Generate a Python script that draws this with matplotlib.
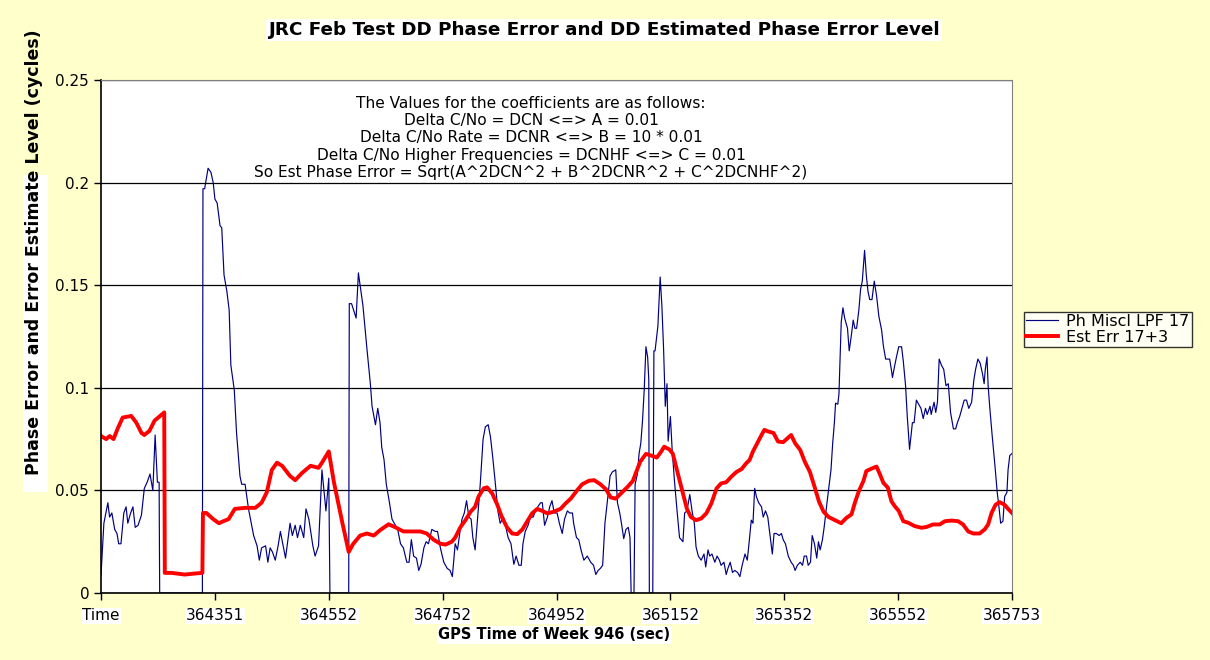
import matplotlib
matplotlib.use('Agg')
import matplotlib.pyplot as plt
from matplotlib.patches import Rectangle

plt.rcParams['font.family'] = ['DejaVu Sans']

# sample index (1 s per sample) and phase error values
ph_idx = [0, 5, 12, 15, 19, 24, 28, 31, 35, 40, 44, 47, 52, 56, 60, 65, 71, 76, 81, 86,
          91, 95, 99, 102, 103, 178, 179, 182, 188, 193, 197, 200, 204, 209, 212, 216, 221,
          225, 228, 234, 238, 244, 247, 253, 259, 268, 274, 278, 282, 289, 293, 297, 301,
          306, 311, 315, 324, 332, 336, 341, 345, 350, 356, 360, 365, 372, 376, 382, 388,
          395, 400, 402, 435, 436, 440, 448, 452, 455, 460, 467, 473, 476, 482, 486, 490,
          493, 497, 501, 506, 511, 517, 521, 526, 531, 537, 541, 545, 549, 554, 558, 562,
          567, 571, 575, 581, 587, 591, 596, 602, 608, 613, 617, 622, 626, 631, 634, 638,
          642, 646, 650, 653, 657, 662, 666, 671, 675, 680, 684, 688, 693, 697, 701, 707,
          711, 715, 720, 725, 729, 734, 738, 741, 745, 750, 754, 759, 763, 767, 772, 775,
          779, 784, 788, 792, 796, 801, 805, 810, 814, 819, 823, 828, 830, 835, 839, 843,
          848, 854, 860, 865, 869, 873, 877, 881, 885, 889, 894, 898, 904, 907, 911, 914,
          918, 922, 926, 929, 931, 936, 938, 942, 945, 948, 951, 954, 957, 960, 962, 963,
          969, 971, 973, 978, 982, 985, 988, 991, 994, 996, 1000, 1003, 1007, 1012, 1016,
          1022, 1025, 1029, 1034, 1038, 1042, 1045, 1049, 1054, 1059, 1062, 1066, 1069,
          1073, 1078, 1082, 1086, 1089, 1094, 1098, 1101, 1105, 1109, 1113, 1118, 1122,
          1126, 1131, 1135, 1138, 1142, 1145, 1148, 1151, 1155, 1160, 1163, 1167, 1171,
          1175, 1179, 1182, 1186, 1191, 1195, 1198, 1202, 1207, 1212, 1216, 1219, 1223,
          1228, 1232, 1235, 1239, 1242, 1246, 1249, 1253, 1257, 1260, 1263, 1267, 1270,
          1275, 1279, 1282, 1285, 1288, 1290, 1294, 1296, 1300, 1303, 1306, 1311, 1314,
          1318, 1321, 1324, 1327, 1331, 1334, 1337, 1341, 1344, 1347, 1350, 1354, 1358,
          1362, 1366, 1371, 1374, 1378, 1381, 1385, 1388, 1390, 1394, 1397, 1401, 1406,
          1409, 1413, 1416, 1420, 1425, 1428, 1432, 1436, 1440, 1444, 1448, 1451, 1456,
          1458, 1463, 1466, 1469, 1472, 1476, 1480, 1484, 1488, 1492, 1497, 1501, 1504,
          1508, 1512, 1516, 1520, 1524, 1529, 1533, 1536, 1540, 1544, 1548, 1551, 1553,
          1556, 1558, 1561, 1565, 1570, 1574, 1577, 1580, 1584, 1587, 1591, 1593, 1596, 1600]
ph_val = [0.009, 0.034, 0.044, 0.037, 0.039, 0.031, 0.029, 0.024, 0.024, 0.039, 0.042, 0.034,
          0.039, 0.042, 0.032, 0.033, 0.038, 0.051, 0.054, 0.058, 0.050, 0.077, 0.054, 0.054,
          0.0, 0.0, 0.197, 0.197, 0.207, 0.205, 0.200, 0.192, 0.190, 0.179, 0.178, 0.155,
          0.147, 0.138, 0.111, 0.099, 0.078, 0.057, 0.053, 0.053, 0.041, 0.028, 0.023, 0.016,
          0.022, 0.023, 0.015, 0.022, 0.020, 0.016, 0.023, 0.030, 0.017, 0.034, 0.028, 0.033,
          0.027, 0.033, 0.027, 0.041, 0.036, 0.023, 0.018, 0.023, 0.060, 0.040, 0.056, 0.0,
          0.0, 0.141, 0.141, 0.134, 0.156, 0.150, 0.140, 0.119, 0.102, 0.091, 0.082, 0.090,
          0.083, 0.071, 0.065, 0.053, 0.045, 0.036, 0.033, 0.031, 0.024, 0.022, 0.015, 0.015,
          0.026, 0.018, 0.017, 0.011, 0.014, 0.022, 0.025, 0.024, 0.031, 0.030, 0.030, 0.022,
          0.015, 0.012, 0.011, 0.008, 0.024, 0.021, 0.031, 0.036, 0.039, 0.045, 0.037, 0.036,
          0.027, 0.021, 0.039, 0.053, 0.075, 0.081, 0.082, 0.076, 0.066, 0.052, 0.040, 0.034,
          0.037, 0.032, 0.027, 0.024, 0.014, 0.018, 0.0135, 0.0135, 0.024, 0.030, 0.033,
          0.037, 0.037, 0.040, 0.042, 0.044, 0.044, 0.033, 0.037, 0.042, 0.045, 0.039, 0.039,
          0.034, 0.029, 0.036, 0.040, 0.039, 0.039, 0.034, 0.027, 0.026, 0.021, 0.016, 0.018,
          0.015, 0.0135, 0.009, 0.011, 0.012, 0.0135, 0.034, 0.044, 0.057, 0.059, 0.060,
          0.044, 0.039, 0.034, 0.0265, 0.031, 0.032, 0.027, 0.0, 0.0, 0.053, 0.058, 0.068,
          0.073, 0.084, 0.099, 0.120, 0.115, 0.104, 0.0, 0.0, 0.118, 0.118, 0.130, 0.154,
          0.140, 0.119, 0.091, 0.102, 0.074, 0.086, 0.070, 0.055, 0.039, 0.027, 0.025, 0.039,
          0.040, 0.048, 0.040, 0.034, 0.0225, 0.018, 0.016, 0.019, 0.0127, 0.021, 0.018,
          0.019, 0.015, 0.018, 0.016, 0.0135, 0.015, 0.009, 0.012, 0.015, 0.010, 0.011, 0.010,
          0.008, 0.0135, 0.019, 0.016, 0.024, 0.0355, 0.034, 0.051, 0.047, 0.044, 0.042,
          0.037, 0.040, 0.037, 0.028, 0.019, 0.029, 0.029, 0.028, 0.029, 0.026, 0.024, 0.018,
          0.015, 0.0135, 0.011, 0.0135, 0.015, 0.0135, 0.018, 0.018, 0.0135, 0.015, 0.028,
          0.024, 0.017, 0.025, 0.021, 0.026, 0.032, 0.044, 0.053, 0.060, 0.073, 0.083, 0.0925,
          0.092, 0.097, 0.132, 0.139, 0.134, 0.129, 0.118, 0.126, 0.133, 0.129, 0.129, 0.138,
          0.148, 0.152, 0.167, 0.155, 0.147, 0.143, 0.143, 0.152, 0.145, 0.135, 0.128, 0.1205,
          0.114, 0.114, 0.114, 0.109, 0.105, 0.111, 0.115, 0.120, 0.120, 0.113, 0.101, 0.086,
          0.070, 0.083, 0.083, 0.094, 0.092, 0.090, 0.085, 0.090, 0.087, 0.091, 0.087, 0.093,
          0.088, 0.093, 0.114, 0.111, 0.109, 0.101, 0.102, 0.088, 0.080, 0.080, 0.083, 0.086,
          0.090, 0.094, 0.094, 0.090, 0.093, 0.104, 0.109, 0.114, 0.112, 0.107, 0.102, 0.109,
          0.115, 0.101, 0.090, 0.077, 0.062, 0.049, 0.042, 0.034, 0.035, 0.047, 0.049, 0.060,
          0.067, 0.068]

# estimated phase error level
est_idx = [0, 9, 15, 22, 29, 38, 53, 62, 71, 76, 85, 94, 111, 112, 124, 147, 165, 178, 179,
           185, 197, 207, 215, 224, 235, 253, 271, 282, 291, 300, 309, 318, 332, 341, 353,
           368, 382, 388, 400, 409, 424, 435, 443, 455, 467, 479, 490, 505, 517, 531, 546,
           561, 572, 584, 596, 605, 616, 622, 631, 640, 649, 657, 663, 672, 678, 687, 696,
           704, 713, 722, 731, 740, 748, 757, 766, 775, 784, 795, 807, 816, 825, 836, 845,
           857, 866, 877, 887, 895, 904, 913, 925, 934, 939, 947, 957, 966, 976, 984, 989,
           998, 1004, 1010, 1016, 1022, 1029, 1036, 1045, 1054, 1063, 1072, 1081, 1089,
           1098, 1107, 1116, 1125, 1133, 1139, 1145, 1154, 1160, 1165, 1172, 1181, 1189,
           1198, 1204, 1212, 1219, 1228, 1236, 1245, 1254, 1261, 1269, 1278, 1289, 1300,
           1309, 1318, 1324, 1331, 1339, 1344, 1353, 1362, 1368, 1374, 1382, 1388, 1394,
           1401, 1409, 1418, 1429, 1441, 1450, 1461, 1473, 1482, 1494, 1505, 1514, 1523,
           1532, 1543, 1552, 1558, 1564, 1571, 1578, 1587, 1593, 1600]
est_val = [0.0765, 0.075, 0.0765, 0.075, 0.080, 0.0855, 0.0863, 0.083, 0.078, 0.077, 0.079,
           0.084, 0.088, 0.0098, 0.0098, 0.009, 0.0095, 0.0098, 0.039, 0.039, 0.036, 0.034,
           0.035, 0.036, 0.041, 0.0415, 0.0415, 0.044, 0.049, 0.060, 0.0635, 0.062, 0.057,
           0.055, 0.0585, 0.062, 0.061, 0.0635, 0.069, 0.054, 0.034, 0.020, 0.024, 0.028,
           0.029, 0.028, 0.0306, 0.0335, 0.032, 0.030, 0.030, 0.030, 0.029, 0.026, 0.024,
           0.0236, 0.025, 0.027, 0.032, 0.0355, 0.0396, 0.042, 0.047, 0.051, 0.0515, 0.0485,
           0.043, 0.037, 0.032, 0.029, 0.0287, 0.031, 0.0347, 0.0388, 0.041, 0.040, 0.0388,
           0.0396, 0.041, 0.0437, 0.046, 0.050, 0.053, 0.0547, 0.055, 0.053, 0.0505, 0.0466,
           0.046, 0.0485, 0.0518, 0.0546, 0.0583, 0.064, 0.0678, 0.067, 0.066, 0.069, 0.0713,
           0.070, 0.068, 0.0616, 0.055, 0.0485, 0.041, 0.037, 0.0355, 0.0363, 0.0388, 0.0437,
           0.051, 0.0534, 0.054, 0.0567, 0.059, 0.0604, 0.0632, 0.0648, 0.069, 0.0738, 0.077,
           0.0795, 0.0787, 0.078, 0.0738, 0.0735, 0.075, 0.077, 0.073, 0.0697, 0.064, 0.059,
           0.051, 0.0445, 0.0396, 0.037, 0.0355, 0.034, 0.0366, 0.0383, 0.044, 0.0497, 0.0546,
           0.0594, 0.0606, 0.0616, 0.0578, 0.0537, 0.0513, 0.0448, 0.0423, 0.040, 0.035,
           0.0342, 0.0326, 0.0318, 0.0322, 0.0334, 0.0334, 0.035, 0.0353, 0.035, 0.0334,
           0.030, 0.029, 0.029, 0.031, 0.0334, 0.039, 0.043, 0.0443, 0.043, 0.041, 0.039]

tick_pos = [0, 200, 400, 600, 800, 1000, 1200, 1400, 1600]
tick_labels = ['Time', '364351', '364552', '364752', '364952',
               '365152', '365352', '365552', '365753']

notes = ['The Values for the coefficients are as follows:',
         'Delta C/No = DCN <=> A = 0.01',
         'Delta C/No Rate = DCNR <=> B = 10 * 0.01',
         'Delta C/No Higher Frequencies = DCNHF <=> C = 0.01',
         'So Est Phase Error = Sqrt(A^2DCN^2 + B^2DCNR^2 + C^2DCNHF^2)']

fig = plt.figure(figsize=(12.1, 6.6), dpi=100, facecolor='#FFFFCC')
ax = fig.add_axes([0.0835, 0.1015, 0.7529, 0.7773])
ax.set_facecolor('white')

ax.plot(ph_idx, ph_val, color='#000080', lw=0.85, label='Ph Miscl LPF 17')
ax.plot(est_idx, est_val, color='#FF0000', lw=2.8, label='Est Err 17+3')

ax.set_xlim(0, 1600)
ax.set_ylim(0, 0.25)
ax.set_yticks([0, 0.05, 0.1, 0.15, 0.2, 0.25])
ax.set_yticklabels(['0', '0.05', '0.1', '0.15', '0.2', '0.25'])
ax.set_xticks(tick_pos)
ax.set_xticklabels(tick_labels)
for t in ax.get_xticklabels():
    t.set_bbox(dict(facecolor='white', edgecolor='none', pad=0.5))
ax.tick_params(axis='both', labelsize=11, length=5, width=1, color='black', direction='out')
ax.tick_params(axis='x', pad=6)
ax.grid(axis='y', color='black', lw=0.9)
ax.set_axisbelow(True)

for side in ['top', 'right']:
    ax.spines[side].set_color('#808080')
for side in ['left', 'bottom']:
    ax.spines[side].set_color('black')
    ax.spines[side].set_linewidth(1.2)

ax.text(0.472, 0.968, '\n'.join(notes), transform=ax.transAxes, ha='center', va='top',
        fontsize=11.1, linespacing=1.17)

fig.text(0.499, 0.955, 'JRC Feb Test DD Phase Error and DD Estimated Phase Error Level',
         ha='center', va='center', fontsize=13.2, fontweight='bold',
         bbox=dict(facecolor='white', edgecolor='none', pad=1.5))
fig.text(0.458, 0.038, 'GPS Time of Week 946 (sec)', ha='center', va='center',
         fontsize=10.5, fontweight='bold',
         bbox=dict(facecolor='white', edgecolor='none', pad=1))

# white patch behind the lower part of the y label, as in the original
fig.patches.append(Rectangle((0.019, 0.255), 0.021, 0.48, transform=fig.transFigure,
                             facecolor='white', edgecolor='none', zorder=0))
fig.text(0.028, 0.618, 'Phase Error and Error Estimate Level (cycles)', rotation=90,
         ha='center', va='center', fontsize=12.5, fontweight='bold')

leg = fig.legend(loc='center left', bbox_to_anchor=(0.846, 0.501), fontsize=11.5,
                 frameon=True, fancybox=False, edgecolor='black', handlelength=2.0,
                 borderpad=0.15, labelspacing=0.05, handletextpad=0.5, borderaxespad=0)
leg.get_frame().set_linewidth(1.0)

fig.savefig('out.png', dpi=100, facecolor=fig.get_facecolor())
